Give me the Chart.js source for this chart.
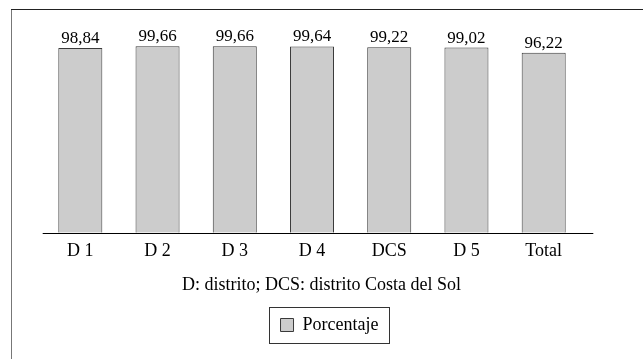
<!DOCTYPE html>
<html lang="es">
<head>
<meta charset="UTF-8">
<title>Porcentaje por distrito</title>
<script src="https://cdn.jsdelivr.net/npm/chart.js@4.4.0/dist/chart.umd.min.js"></script>
<style>
  html, body { margin: 0; padding: 0; background: #fff; }
  #wrap { width: 643px; height: 359px; position: relative; }
</style>
</head>
<body>
<div id="wrap"><canvas id="grafico"></canvas></div>
<script>
const distritos = ['D 1', 'D 2', 'D 3', 'D 4', 'DCS', 'D 5', 'Total'];
const porcentajes = [98.84, 99.66, 99.66, 99.64, 99.22, 99.02, 96.22];
const nota = 'D: distrito; DCS: distrito Costa del Sol';
const serie = 'Porcentaje';

const fuente = "'Liberation Serif', 'Times New Roman', serif";

function conComa(v) {
  return v.toFixed(2).replace('.', ',');
}

// marco, línea base, etiquetas de valor y recuadro de la leyenda
const adornos = {
  id: 'adornos',
  afterLayout(chart) {
    // la leyenda queda algo a la derecha del centro
    chart.legend.left += 8;
    chart.legend.right += 8;
  },
  beforeDraw(chart) {
    const ctx = chart.ctx;
    ctx.save();
    ctx.lineWidth = 1;
    ctx.strokeStyle = '#777';
    ctx.beginPath(); ctx.moveTo(11.5, 9); ctx.lineTo(11.5, chart.height); ctx.stroke();
    ctx.strokeStyle = '#222';
    ctx.beginPath(); ctx.moveTo(11, 9.5); ctx.lineTo(chart.width, 9.5); ctx.stroke();
    ctx.restore();
  },
  afterDatasetsDraw(chart) {
    const ctx = chart.ctx;
    const area = chart.chartArea;
    ctx.save();
    ctx.strokeStyle = '#000';
    ctx.lineWidth = 1;
    const yb = Math.round(area.bottom) + 0.5;
    ctx.beginPath(); ctx.moveTo(area.left + 1, yb); ctx.lineTo(area.right + 11, yb); ctx.stroke();

    ctx.fillStyle = '#000';
    ctx.font = '17px ' + fuente;
    ctx.textAlign = 'center';
    ctx.textBaseline = 'alphabetic';
    chart.getDatasetMeta(0).data.forEach((bar, i) => {
      ctx.fillText(conComa(porcentajes[i]), bar.x, bar.y - 5);
    });
    ctx.restore();
  },
  afterDraw(chart) {
    const hb = chart.legend.legendHitBoxes[0];
    if (!hb) return;
    const ctx = chart.ctx;
    const cy = hb.top + hb.height / 2;
    ctx.save();
    ctx.strokeStyle = '#333';
    ctx.lineWidth = 1;
    ctx.strokeRect(Math.round(hb.left - 12) + 0.5, Math.round(cy - 18) + 0.5, Math.round(hb.width + 22), 36);
    ctx.restore();
  }
};

const oculto = {
  display: true,
  ticks: { display: false },
  grid: { display: false, drawTicks: false },
  border: { display: false }
};

new Chart(document.getElementById('grafico'), {
  type: 'bar',
  data: {
    labels: distritos,
    datasets: [{
      label: serie,
      data: porcentajes,
      backgroundColor: '#cccccc',
      borderColor: '#3a3a3a',
      borderWidth: 1,
      barPercentage: 0.57,
      categoryPercentage: 1
    }]
  },
  options: {
    responsive: true,
    maintainAspectRatio: false,
    animation: false,
    layout: { padding: { top: 27, bottom: 15, left: 0, right: 0 } },
    scales: {
      x: {
        grid: { display: false, drawTicks: false },
        border: { display: false },
        ticks: { color: '#000', font: { family: fuente, size: 18 }, padding: 8 }
      },
      y: Object.assign({}, oculto, {
        min: 0, max: 110,
        afterFit(s) { s.width = 41.7; }
      }),
      yDer: Object.assign({}, oculto, {
        type: 'linear', position: 'right',
        afterFit(s) { s.width = 60.7; }
      })
    },
    plugins: {
      subtitle: {
        display: true,
        position: 'bottom',
        text: nota,
        color: '#000',
        font: { family: fuente, size: 18, weight: 'normal' },
        padding: { top: 4, bottom: 10 }
      },
      legend: {
        position: 'bottom',
        weight: 2000,
        labels: {
          boxWidth: 13,
          boxHeight: 13,
          color: '#000',
          font: { family: fuente, size: 18 },
          padding: 10
        }
      },
      tooltip: { enabled: false }
    }
  },
  plugins: [adornos]
});
</script>
</body>
</html>
